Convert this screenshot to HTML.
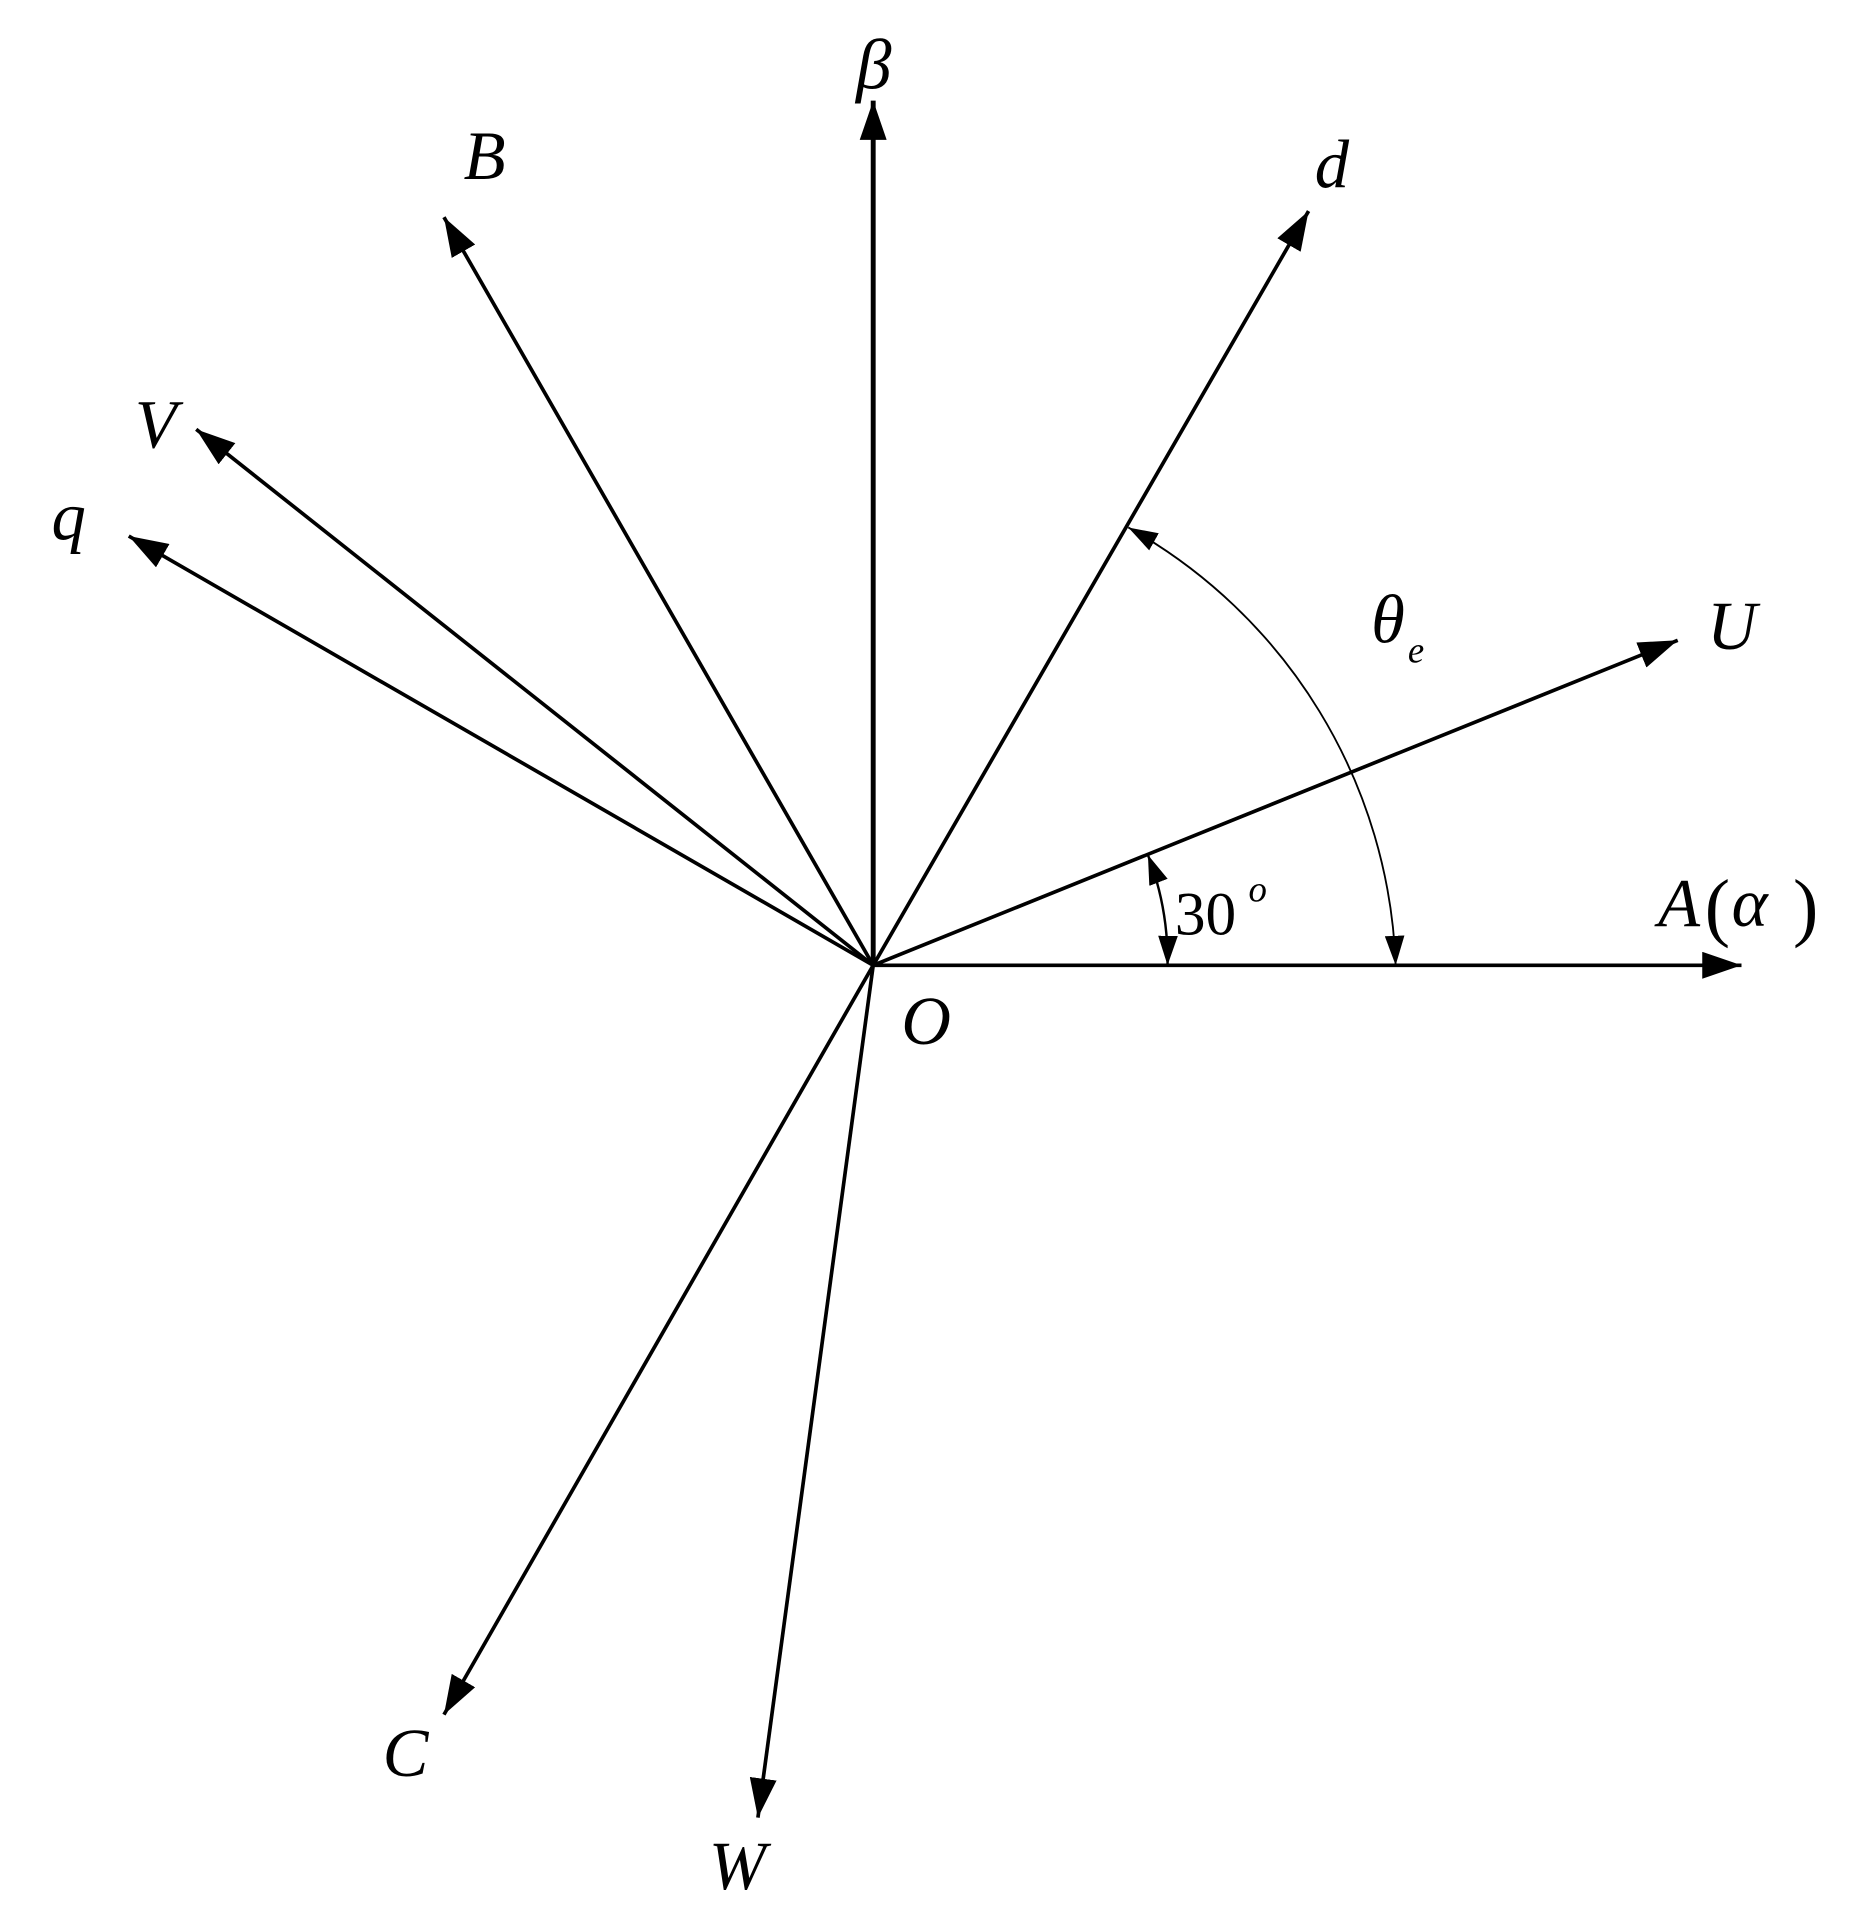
<!DOCTYPE html>
<html><head><meta charset="utf-8"><style>
html,body{margin:0;padding:0;background:#fff;}
svg{display:block;}
text{font-family:"Liberation Serif",serif;font-style:italic;fill:#000;}
</style></head><body>
<svg width="1858" height="1922" viewBox="0 0 1515 1567" xmlns="http://www.w3.org/2000/svg">
<defs>
<marker id="big" viewBox="0 0 10 10" refX="10" refY="5" markerWidth="32" markerHeight="22" markerUnits="userSpaceOnUse" orient="auto-start-reverse" preserveAspectRatio="none">
<path d="M0,0 L10,5 L0,10 z" fill="#000"/>
</marker>
<marker id="sm" viewBox="0 0 10 10" refX="10" refY="5" markerWidth="24" markerHeight="16" markerUnits="userSpaceOnUse" orient="auto-start-reverse" preserveAspectRatio="none">
<path d="M0,0 L10,5 L0,10 z" fill="#000"/>
</marker>
</defs>
<g stroke="#000" stroke-width="3" fill="none">
<line x1="712" y1="787" x2="1420" y2="787" marker-end="url(#big)"/>
<line x1="712" y1="787" x2="712" y2="82" stroke-width="4" marker-end="url(#big)"/>
<line x1="712" y1="787" x2="1067" y2="172" marker-end="url(#big)"/>
<line x1="712" y1="787" x2="362" y2="177" marker-end="url(#big)"/>
<line x1="712" y1="787" x2="160" y2="350" marker-end="url(#big)"/>
<line x1="712" y1="787" x2="105" y2="437" marker-end="url(#big)"/>
<line x1="712" y1="787" x2="1368" y2="522" marker-end="url(#big)"/>
<line x1="712" y1="787" x2="362" y2="1398" marker-end="url(#big)"/>
<line x1="712" y1="787" x2="618" y2="1482" marker-end="url(#big)"/>
<path d="M1138,787 A426 426 0 0 0 920,430" stroke-width="1.5" marker-start="url(#sm)" marker-end="url(#sm)"/>
<path d="M952,787 A240 240 0 0 0 936,697" stroke-width="2" marker-start="url(#sm)" marker-end="url(#sm)"/>
</g>
<text x="698" y="72" font-size="58">β</text>
<text x="378" y="146" font-size="56">B</text>
<text x="1072" y="153" font-size="56">d</text>
<text x="110" y="365" font-size="56">V</text>
<text x="42" y="440" font-size="56">q</text>
<text x="1118" y="524" font-size="56">θ</text>
<text x="1148" y="540" font-size="30">e</text>
<text x="1392" y="529" font-size="56">U</text>
<text x="1352" y="755" font-size="56">A</text>
<text x="1390" y="760" font-size="62" style="font-style:normal">(</text>
<text x="1412" y="755" font-size="56">α</text>
<text x="1462" y="760" font-size="62" style="font-style:normal">)</text>
<text x="735" y="851" font-size="56">O</text>
<text x="958" y="762" font-size="50" style="font-style:normal">30</text>
<text x="1018" y="735" font-size="30">o</text>
<text x="312" y="1448" font-size="56">C</text>
<text x="578" y="1540" font-size="56">W</text>
</svg>
</body></html>
